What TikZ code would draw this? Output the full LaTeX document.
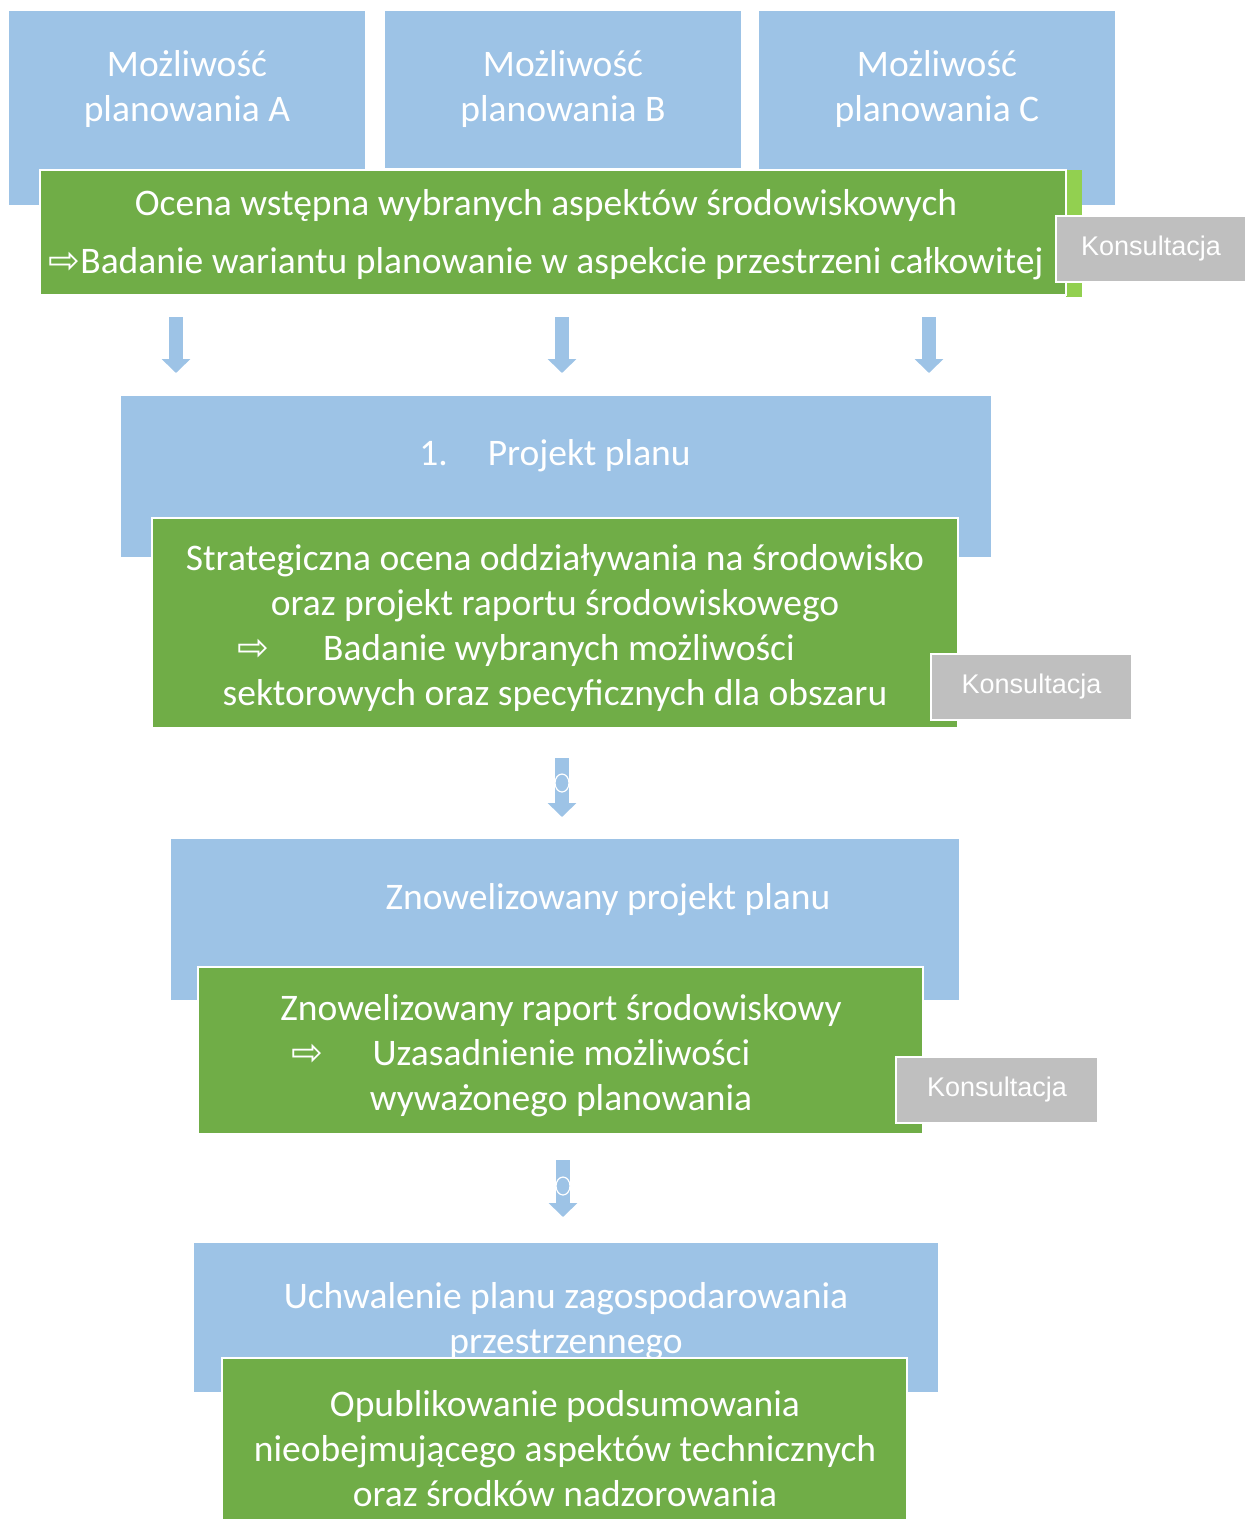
\documentclass[tikz,border=0pt]{standalone}
\usepackage{fontspec}
\setmainfont{Carlito}
\newfontfamily\konsfont{Liberation Sans}
\newfontfamily\arrowfont{DejaVu Sans}
\usetikzlibrary{positioning,calc,arrows.meta,shapes.geometric}

\definecolor{planblue}{HTML}{9DC3E6}
\definecolor{plangreen}{HTML}{70AD47}
\definecolor{lightgreen}{HTML}{92D050}
\definecolor{konsgray}{HTML}{BFBFBF}

\newcommand{\rarr}{{\arrowfont\fontsize{38}{38}\selectfont ⇨}}

\tikzset{
  bluebox/.style={fill=planblue, draw=white, line width=0.8pt, inner sep=0pt, outer sep=0pt, anchor=north west},
  greenbox/.style={fill=plangreen, draw=white, line width=2pt, inner sep=0pt, outer sep=0pt, anchor=north west},
  stripebox/.style={fill=lightgreen, inner sep=0pt, outer sep=0pt, anchor=north west},
  konsbox/.style={fill=konsgray, draw=white, line width=2pt, inner sep=0pt, anchor=north west,
    text=white, font=\konsfont\fontsize{27}{30}\selectfont},
  whitetext/.style={text=white, font=\fontsize{37.5}{45}\selectfont, align=center, inner sep=0pt},
  downarrow/.style={draw=planblue, line width=14pt, -{Triangle[width=28pt,length=14pt]}},
  ring/.style={ellipse, fill=planblue, draw=white, line width=1.2pt, inner sep=0pt, minimum width=14pt, minimum height=18pt}
}

\begin{document}
\begin{tikzpicture}[x=1pt, y=-1pt]
 \useasboundingbox (0,0) rectangle (1245,1519);

 \node[bluebox, minimum width=357pt, minimum height=195pt] (optA) at (8,10) {};
 \node[bluebox, minimum width=357pt, minimum height=158pt] (optB) at (384,10) {};
 \node[bluebox, minimum width=357pt, minimum height=195pt] (optC) at (758,10) {};
 \node[whitetext] (optAtxt) at (187,89) {Możliwość\\planowania A};
 \node[whitetext] (optBtxt) at (563,89) {Możliwość\\planowania B};
 \node[whitetext] (optCtxt) at (937,89) {Możliwość\\planowania C};

 \node[stripebox, minimum width=16pt, minimum height=127pt] (stripe) at (1066,170) {};
 \node[greenbox, minimum width=1026pt, minimum height=125pt] (assess) at (40,170) {};
 \node[whitetext] (assesstxt) at (546,235) {Ocena wstępna wybranych aspektów środowiskowych\\[13pt]
   \rarr Badanie wariantu planowanie w aspekcie przestrzeni całkowitej};
 \node[konsbox, minimum width=190pt, minimum height=66pt] (kons1) at (1055,215) {Konsultacja};

 \coordinate (arrA) at (176,0);
 \coordinate (arrB) at (562,0);
 \coordinate (arrC) at (929,0);

 \node[bluebox, minimum width=871pt, minimum height=162pt] (draft) at (120,395) {};
 \node[whitetext] (drafttxt) at (555,456) {1.\hspace{40pt}Projekt planu};
 \node[greenbox, minimum width=806pt, minimum height=210pt] (sea) at (152,518) {};
 \node[whitetext] (seatxt) at (555,628) {Strategiczna ocena oddziaływania na środowisko\\
   oraz projekt raportu środowiskowego\\
   \rarr\hspace{54pt}Badanie wybranych możliwości\hbox to 78pt{}\\
   sektorowych oraz specyficznych dla obszaru};
 \node[konsbox, minimum width=201pt, minimum height=66pt] (kons2) at (930,653) {Konsultacja};

 \foreach \col in {arrA,arrB,arrC}
  \draw[downarrow, shorten <=22pt, shorten >=22pt] (assess.south -| \col) -- (draft.north -| \col);

 \node[bluebox, minimum width=789pt, minimum height=162pt] (revdraft) at (170,838) {};
 \node[whitetext] (revdrafttxt) at (608,900) {Znowelizowany projekt planu};
 \node[greenbox, minimum width=725pt, minimum height=167pt] (revreport) at (198,967) {};
 \node[whitetext] (revreporttxt) at (561,1056) {Znowelizowany raport środowiskowy\\
   \rarr\hspace{49pt}Uzasadnienie możliwości\hbox to 80pt{}\\
   wyważonego planowania};
 \node[konsbox, minimum width=202pt, minimum height=66pt] (kons3) at (895,1056) {Konsultacja};

 \draw[downarrow, shorten <=30pt, shorten >=21pt] (sea.south -| arrB) -- (revdraft.north -| arrB);
 \node[ring] (ring1) at (562,783) {};

 \node[bluebox, minimum width=745pt, minimum height=150pt] (adopt) at (193,1242) {};
 \node[whitetext] (adopttxt) at (566,1321) {Uchwalenie planu zagospodarowania\\przestrzennego};
 \node[greenbox, minimum width=685pt, minimum height=170pt] (publish) at (222,1358) {};
 \node[whitetext] (publishtxt) at (565,1449) {Opublikowanie podsumowania\\
   nieobejmującego aspektów technicznych\\
   oraz środków nadzorowania};

 \coordinate (arrD) at (563,0);
 \draw[downarrow, shorten <=26pt, shorten >=25pt] (revreport.south -| arrD) -- (adopt.north -| arrD);
 \node[ring] (ring2) at (563,1186) {};
\end{tikzpicture}
\end{document}
